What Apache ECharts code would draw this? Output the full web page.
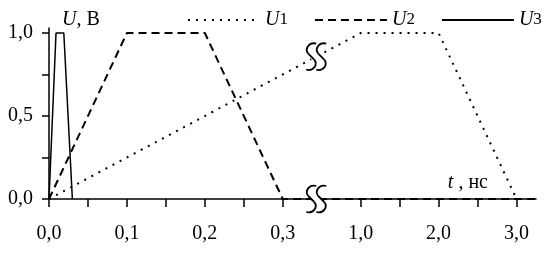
<!DOCTYPE html>
<html><head><meta charset="utf-8">
<script src="https://cdn.jsdelivr.net/npm/echarts@6/dist/echarts.min.js"></script>
<style>html,body{margin:0;padding:0;background:#fff}#c{width:545px;height:253px}</style>
</head><body><div id="c"></div>
<script>
// time in ns, voltage in V
const u1Time = [0, 1.0, 2.0, 3.0];
const u1Volt = [0, 1.0, 1.0, 0];
const u2Time = [0, 0.1, 0.2, 0.3, 3.25];
const u2Volt = [0, 1.0, 1.0, 0, 0];
const u3Time = [0, 0.009, 0.019, 0.03];
const u3Volt = [0, 1.0, 1.0, 0];
const seriesNames = ['U1', 'U2', 'U3'];
const xTickValues = [0, 0.1, 0.2, 0.3, 1.0, 2.0, 3.0];
const xTickLabels = ['0,0', '0,1', '0,2', '0,3', '1,0', '2,0', '3,0'];
const xMinorTickValues = [0.05, 0.15, 0.25, 1.5, 2.5];
const yTickValues = [0, 0.5, 1.0];
const yTickLabels = ['0,0', '0,5', '1,0'];
const yMinorTickValues = [0.25, 0.75];

// broken time axis: 0..0.3 ns linear, then 1..3 ns compressed 10x
const BREAK_FROM = 0.3, BREAK_TO = 1.0, AFTER_SCALE = 0.1, AFTER_START = 0.4;
function toAxis(t) { return t <= BREAK_FROM ? t : AFTER_START + (t - BREAK_TO) * AFTER_SCALE; }
const BREAK_POS = 0.343;
const FONT = 'Liberation Serif';

function pairs(ts, vs) { return ts.map((t, i) => [toAxis(t), vs[i]]); }
function interpAt(ts, vs, a) {
  for (let i = 0; i < ts.length - 1; i++) {
    const a0 = toAxis(ts[i]), a1 = toAxis(ts[i + 1]);
    if (a >= a0 && a <= a1) return vs[i] + (vs[i + 1] - vs[i]) * (a - a0) / (a1 - a0);
  }
  return 0;
}
const eq = (a, b) => Math.abs(a - b) < 1e-9;

const chart = echarts.init(document.getElementById('c'), null, {renderer: 'canvas'});
const txt = {fontFamily: FONT, fontSize: 20, color: '#000'};
chart.setOption({
  animation: false,
  backgroundColor: '#fff',
  grid: {left: 49, right: 9, top: 28, bottom: 54, outerBoundsMode: 'none'},
  legend: {
    left: 182, top: 5, width: 363, itemWidth: 72, itemHeight: 10, itemGap: 26,
    itemStyle: {opacity: 0},
    textStyle: Object.assign({}, txt, {rich: {
      u: {fontFamily: FONT, fontSize: 20, fontStyle: 'italic', color: '#000'},
      n: {fontFamily: FONT, fontSize: 17, color: '#000'}
    }}),
    formatter: n => '{u|' + n[0] + '}{n|' + n.slice(1) + '}'
  },
  xAxis: {
    type: 'value', min: 0, max: 0.625, interval: 0.05,
    name: '{i|t} , нс', nameLocation: 'end', nameGap: -48,
    nameTextStyle: Object.assign({}, txt, {align: 'right', verticalAlign: 'bottom', padding: [0, 0, 6, 0],
      rich: {i: {fontFamily: FONT, fontSize: 20, fontStyle: 'italic', color: '#000'}}}),
    axisLine: {onZero: false, lineStyle: {color: '#000', width: 1.5}},
    axisTick: {show: true, length: 8, lineStyle: {color: '#000', width: 1.5},
      customValues: xTickValues.concat(xMinorTickValues).map(toAxis)},
    axisLabel: Object.assign({}, txt, {margin: 25, customValues: xTickValues.map(toAxis),
      formatter: v => { const i = xTickValues.findIndex(t => eq(toAxis(t), v)); return i >= 0 ? xTickLabels[i] : ''; }}),
    splitLine: {show: false}
  },
  yAxis: {
    type: 'value', min: 0, max: 1.03,
    name: '{i|U}, В', nameLocation: 'end', nameGap: 8,
    nameTextStyle: Object.assign({}, txt, {align: 'left', verticalAlign: 'middle', padding: [0, 0, 0, 13],
      rich: {i: {fontFamily: FONT, fontSize: 20, fontStyle: 'italic', color: '#000'}}}),
    axisLine: {show: true, lineStyle: {color: '#000', width: 1.5}},
    axisTick: {show: true, length: 7, lineStyle: {color: '#000', width: 1.5},
      customValues: yTickValues.concat(yMinorTickValues)},
    axisLabel: Object.assign({}, txt, {margin: 16, customValues: yTickValues,
      formatter: v => { const i = yTickValues.findIndex(t => eq(t, v)); return i >= 0 ? yTickLabels[i] : ''; }}),
    splitLine: {show: false}
  },
  series: [
    {name: seriesNames[0], type: 'line', symbol: 'none', data: pairs(u1Time, u1Volt),
      lineStyle: {color: '#000', width: 2, type: [2, 6]}, itemStyle: {color: '#000'}},
    {name: seriesNames[1], type: 'line', symbol: 'none', data: pairs(u2Time, u2Volt),
      lineStyle: {color: '#000', width: 2, type: [8, 5]}, itemStyle: {color: '#000'}},
    {name: seriesNames[2], type: 'line', symbol: 'none', data: pairs(u3Time, u3Volt),
      lineStyle: {color: '#000', width: 1.5, type: 'solid'}, itemStyle: {color: '#000'}}
  ]
});

// break marks ("S S") on the time axis and on the U1 curve
function sShape(ox) {
  const st = {stroke: '#000', lineWidth: 1.8, fill: null};
  return [
    {type: 'bezierCurve', z: 101, x: ox, shape: {x1: 5, y1: -13, cpx1: -2, cpy1: -15, cpx2: -7, cpy2: -8, x2: -3, y2: -3}, style: st},
    {type: 'line', z: 101, x: ox, shape: {x1: -3, y1: -3, x2: 3, y2: 3}, style: st},
    {type: 'bezierCurve', z: 101, x: ox, shape: {x1: 3, y1: 3, cpx1: 7, cpy1: 8, cpx2: 2, cpy2: 15, x2: -5, y2: 13}, style: st}
  ];
}
function breakMark(p) {
  return {
    type: 'group', x: p[0], y: p[1], z: 100,
    children: [{type: 'rect', z: 100, shape: {x: -5, y: -4, width: 10, height: 8}, style: {fill: '#fff'}}]
      .concat(sShape(-5), sShape(5))
  };
}
const pAxis = chart.convertToPixel({gridIndex: 0}, [BREAK_POS, 0]);
const pLine = chart.convertToPixel({gridIndex: 0}, [BREAK_POS, interpAt(u1Time, u1Volt, BREAK_POS)]);
chart.setOption({graphic: [breakMark(pAxis), breakMark(pLine)]});
</script></body></html>
